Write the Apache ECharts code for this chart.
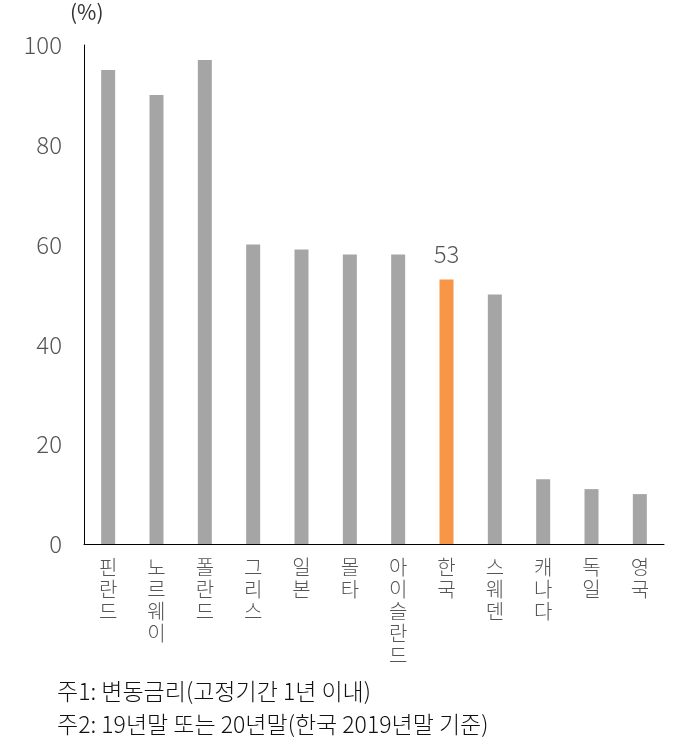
<!DOCTYPE html><html><head><meta charset="utf-8"><script src="https://cdn.jsdelivr.net/npm/echarts@6/dist/echarts.min.js"></script></head><body style="margin:0"><div id="c" style="width:687px;height:754px"></div><script>
const categories=['핀란드','노르웨이','폴란드','그리스','일본','몰타','아이슬란드','한국','스웨덴','캐나다','독일','영국'];
const values=[95,90,97,60,59,58,58,53,50,13,11,10];
const highlight='한국';
const notes=['주1: 변동금리(고정기간 1년 이내)','주2: 19년말 또는 20년말(한국 2019년말 기준)'];
const F='"Noto Sans CJK KR"';
const chart=echarts.init(document.getElementById('c'));
chart.setOption({
 animation:false,
 grid:{left:84,right:23,top:45,bottom:210},
 xAxis:{type:'category',data:categories,axisTick:{show:false},axisLine:{lineStyle:{color:'#000'}},
  axisLabel:{interval:0,color:'#555',fontSize:20,fontWeight:300,fontFamily:F,lineHeight:22,verticalAlign:'top',margin:12,formatter:v=>v.split('').join('\n')}},
 yAxis:{type:'value',min:0,max:100,interval:20,splitLine:{show:false},axisLine:{show:true,lineStyle:{color:'#000'}},axisTick:{show:false},
  axisLabel:{color:'#555',fontSize:24,fontWeight:300,fontFamily:F,margin:22}},
 series:[{type:'bar',barWidth:14,data:values.map((v,i)=>({value:v,itemStyle:{color:categories[i]===highlight?'#F79646':'#A5A5A5'},
  label:{show:categories[i]===highlight,position:'top',distance:14,fontSize:24,fontWeight:300,color:'#555',fontFamily:F}}))}],
 graphic:[
  {type:'text',left:70,top:2,style:{text:'(%)',fontSize:21,fill:'#333',fontFamily:F}},
  {type:'text',left:57,top:680,style:{text:notes[0],fontSize:23,fontWeight:300,fill:'#111',fontFamily:F}},
  {type:'text',left:57,top:713,style:{text:notes[1],fontSize:23,fontWeight:300,fill:'#111',fontFamily:F}}
 ]
});
</script></body></html>
